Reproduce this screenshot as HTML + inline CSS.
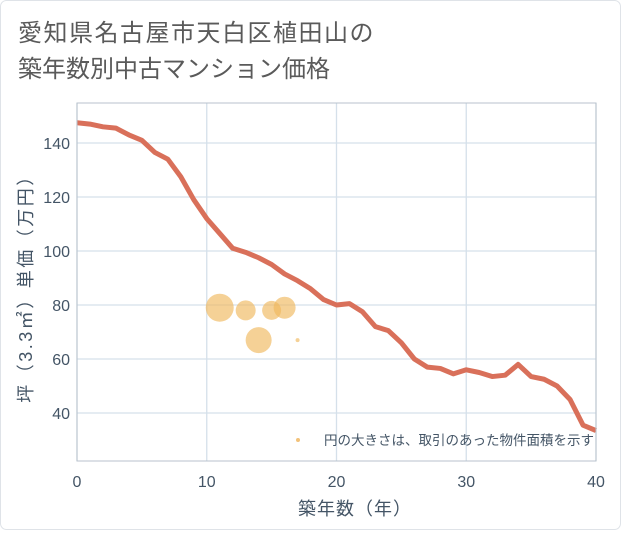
<!DOCTYPE html>
<html><head><meta charset="utf-8"><style>
body{margin:0;background:#fff;}
svg text{font-family:"Liberation Sans","Noto Sans CJK JP",sans-serif;}
</style></head><body>
<svg width="621" height="530" xmlns="http://www.w3.org/2000/svg">
<rect x="0.5" y="0.5" width="620" height="529" rx="6" fill="#fff" stroke="#dfe3e8"/>
<text x="18" y="41" font-size="24" letter-spacing="1.5" fill="#5a5a5a">愛知県名古屋市天白区植田山の</text>
<text x="18" y="77" font-size="24" letter-spacing="0" fill="#5a5a5a">築年数別中古マンション価格</text>
<g id="grid"></g>
<g id="bubbles"></g>
<path id="line" fill="none" stroke="#d9705a" stroke-width="5" stroke-linejoin="round"/>
<rect x="77" y="103" width="519" height="358" fill="none" stroke="#b8c2cc"/>
<g id="ticks"></g>
<text x="355" y="515" font-size="18" letter-spacing="1" fill="#445566" text-anchor="middle">築年数（年）</text>
<text transform="translate(32,284) rotate(-90)" font-size="18" letter-spacing="2.5" fill="#445566" text-anchor="middle">坪（3.3㎡）単価（万円）</text>
<circle cx="298" cy="440" r="2" fill="#f2c27a"/>
<text x="594" y="445" font-size="13.5" fill="#445566" text-anchor="end">円の大きさは、取引のあった物件面積を示す</text>
</svg>
<script>
const years=[0,1,2,3,4,5,6,7,8,9,10,11,12,13,14,15,16,17,18,19,20,21,22,23,24,25,26,27,28,29,30,31,32,33,34,35,36,37,38,39,40];
const prices=[147.5,147,146,145.5,143,141,136.5,134,127.5,119,112,106.5,101,99.5,97.5,95,91.5,89,86,82,80,80.5,77.5,72,70.5,66,60,57,56.5,54.5,56,55,53.5,54,58,53.5,52.5,50,45,35.5,33.5];
const bubbleX=[11,13,14,15,16,17];
const bubbleY=[79,78,67,78,79,67];
const bubbleR=[14,10,13,9.5,11,2];
const xTicks=[0,10,20,30,40];
const yTicks=[40,60,80,100,120,140];
const ns="http://www.w3.org/2000/svg";
const X=v=>77+v*(519/40);
const Y=v=>143-(v-140)*2.7;
const grid=document.getElementById('grid'),ticks=document.getElementById('ticks'),bub=document.getElementById('bubbles');
function mk(tag,attrs,parent){const e=document.createElementNS(ns,tag);for(const k in attrs)e.setAttribute(k,attrs[k]);parent.appendChild(e);return e;}
xTicks.forEach(t=>{
 const l=mk('line',{x1:X(t),x2:X(t),y1:103,y2:461,stroke:'#d5e0ea','stroke-width':1.3},grid);
 
 
 const tx=mk('text',{x:X(t),y:487,'font-size':16,fill:'#445566','text-anchor':'middle'},ticks);
 tx.textContent=t;
 
 
});
yTicks.forEach(t=>{
 const l=mk('line',{x1:77,x2:596,y1:Y(t),y2:Y(t),stroke:'#d5e0ea','stroke-width':1.3},grid);
 
 
 const tx=mk('text',{x:70,y:Y(t)+6,'font-size':16,fill:'#445566','text-anchor':'end'},ticks);
 tx.textContent=t;
 
 
});
bubbleX.forEach((x,i)=>{
 const c=mk('circle',{cx:X(x),cy:Y(bubbleY[i]),r:bubbleR[i],fill:'#f0b95e','fill-opacity':0.65},bub);
 
 
});
document.getElementById('line').setAttribute('d',years.map((y,i)=>(i?'L':'M')+X(y)+','+Y(prices[i])).join(''));
</script>
</body></html>
